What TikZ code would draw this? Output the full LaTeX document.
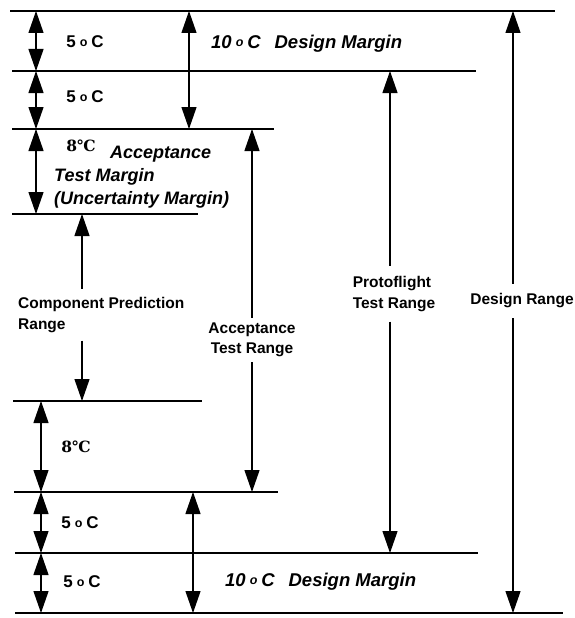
\documentclass[tikz,border=0pt]{standalone}
\usepackage{fontspec}
\setmainfont{Liberation Sans}
\newfontfamily\celfont{DejaVu Serif}
\usetikzlibrary{arrows.meta,positioning}
\newcommand{\dgC}{\hspace{4pt}\raisebox{.2ex}{\bfseries\fontsize{12.5}{10}\selectfont o}\hspace{4pt}C}
\tikzset{
  level/.style={line width=1.5pt},
  dim/.style={line width=1.2pt, {Triangle[length=22pt,width=15pt]}-{Triangle[length=22pt,width=15pt]}},
  dimup/.style={line width=1.2pt, {Triangle[length=22pt,width=15pt]}-},
  dimdown/.style={line width=1.2pt, -{Triangle[length=22pt,width=15pt]}},
  deglbl/.style={font=\bfseries\fontsize{17}{20}\selectfont, inner sep=0pt},
  cellbl/.style={font=\celfont\bfseries\fontsize{15.5}{16}\selectfont, inner sep=0pt},
  marglbl/.style={font=\bfseries\itshape\fontsize{18}{23}\selectfont, inner sep=0pt, align=left},
  dmlbl/.style={marglbl, font=\bfseries\itshape\fontsize{18.5}{23}\selectfont},
  rangelbl/.style={font=\bfseries\fontsize{15.5}{20.5}\selectfont, inner xsep=0pt, align=left}
}
\begin{document}
\begin{tikzpicture}[x=1pt,y=-1pt]
\useasboundingbox (0,0) rectangle (574,618);

% temperature levels
\coordinate (L1w) at (10,11);  \coordinate (L1e) at (555,11);
\coordinate (L2w) at (12,71);  \coordinate (L2e) at (476,71);
\coordinate (L3w) at (12,129); \coordinate (L3e) at (274,129);
\coordinate (L4w) at (12,214); \coordinate (L4e) at (198,214);
\coordinate (L5w) at (13,401); \coordinate (L5e) at (202,401);
\coordinate (L6w) at (14,492); \coordinate (L6e) at (278,492);
\coordinate (L7w) at (15,553); \coordinate (L7e) at (478,553);
\coordinate (L8w) at (15,613); \coordinate (L8e) at (563,613);
\draw[level] (L1w) -- (L1e);
\draw[level] (L2w) -- (L2e);
\draw[level] (L3w) -- (L3e);
\draw[level] (L4w) -- (L4e);
\draw[level] (L5w) -- (L5e);
\draw[level] (L6w) -- (L6e);
\draw[level] (L7w) -- (L7e);
\draw[level] (L8w) -- (L8e);

% dimension columns
\coordinate (colTop) at (36,0);
\coordinate (colBot) at (41,0);
\coordinate (colMarg) at (189,0);
\coordinate (colMargB) at (193,0);
\coordinate (colComp) at (82,0);
\coordinate (colAcc) at (252,0);
\coordinate (colProto) at (390,0);
\coordinate (colDes) at (513,0);

% labels
\node[deglbl] (t5a) at (85,42) {5\dgC};
\node[deglbl] (t5b) at (85,97) {5\dgC};
\node[dmlbl, anchor=west] (dmTop) at (211,44) {10\dgC\hspace{0.75em}Design Margin};
\node[cellbl] (t8a) at (81,146) {8℃};
\node[marglbl, anchor=west] (atm) at (54,177) {\hspace*{56pt}Acceptance\\Test Margin\\(Uncertainty Margin)};
\node[rangelbl, anchor=west, inner ysep=8pt] (cpr) at (18,315) {Component Prediction\\Range};
\node[rangelbl, align=center, inner ysep=5pt] (atr) at (252,340) {Acceptance\\Test Range};
\node[rangelbl, inner ysep=10pt] (pft) at (394,294) {Protoflight\\Test Range};
\node[rangelbl, inner ysep=10pt] (drg) at (522,301) {Design Range};
\node[cellbl] (t8b) at (76,447) {8℃};
\node[deglbl] (t5c) at (80,523) {5\dgC};
\node[deglbl] (t5d) at (82,582) {5\dgC};
\node[dmlbl, anchor=west] (dmBot) at (225,582) {10\dgC\hspace{0.75em}Design Margin};

% margins
\draw[dim] (colTop |- L1w) -- (colTop |- L2w);
\draw[dim] (colTop |- L2w) -- (colTop |- L3w);
\draw[dim] (colTop |- L3w) -- (colTop |- L4w);
\draw[dim] (colBot |- L5w) -- (colBot |- L6w);
\draw[dim] (colBot |- L6w) -- (colBot |- L7w);
\draw[dim] (colBot |- L7w) -- (colBot |- L8w);
\draw[dim] (colMarg |- L1w) -- (colMarg |- L3w);
\draw[dim] (colMargB |- L6w) -- (colMargB |- L8w);

% ranges
\draw[dimup] (colComp |- L4w) -- (colComp |- cpr.north);
\draw[dimdown] (colComp |- cpr.south) -- (colComp |- L5w);
\draw[dimup] (colAcc |- L3w) -- (atr.north);
\draw[dimdown] (atr.south) -- (colAcc |- L6w);
\draw[dimup] (colProto |- L2w) -- (colProto |- pft.north);
\draw[dimdown] (colProto |- pft.south) -- (colProto |- L7w);
\draw[dimup] (colDes |- L1w) -- (colDes |- drg.north);
\draw[dimdown] (colDes |- drg.south) -- (colDes |- L8w);

\end{tikzpicture}
\end{document}
